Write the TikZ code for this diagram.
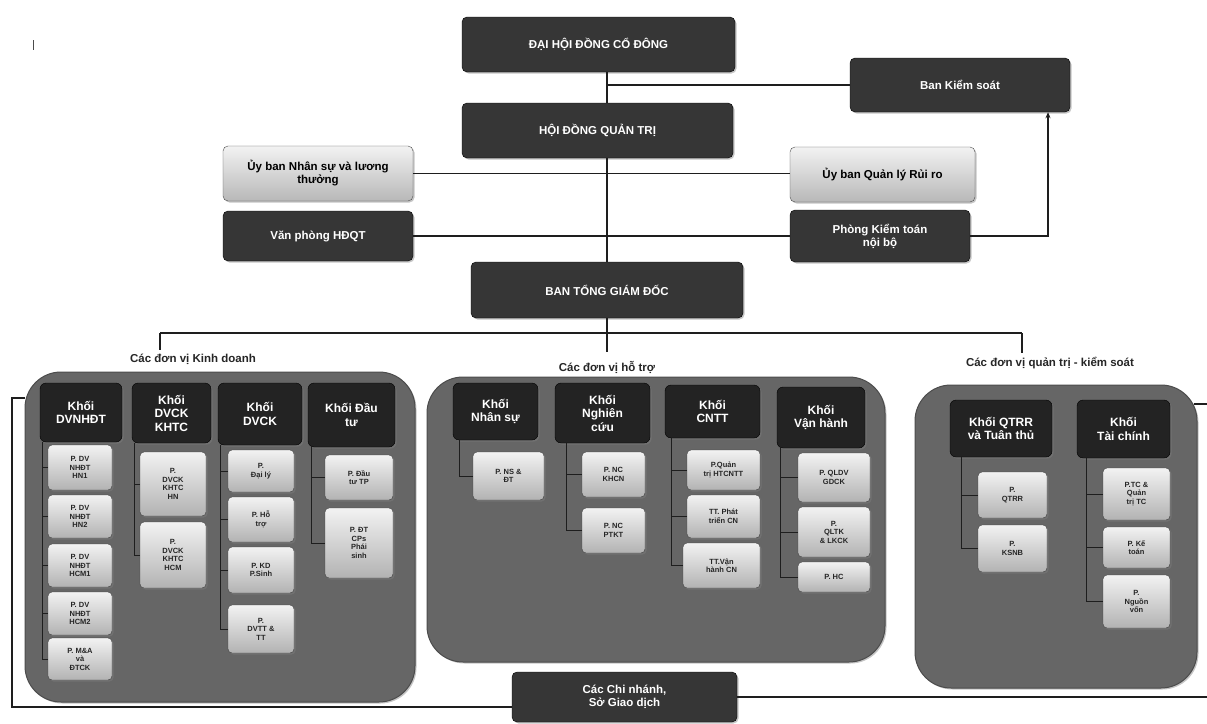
\documentclass[tikz,border=0pt]{standalone}
\usepackage{fontspec}
\setmainfont{Liberation Sans}
\usetikzlibrary{shadows,arrows.meta,calc}
\definecolor{dk}{HTML}{363636}
\definecolor{hd}{HTML}{232323}
\definecolor{ct}{HTML}{666666}
\definecolor{ln}{HTML}{1E1E1E}
\newcommand\mybox[7]{\node[#1, minimum width={(#5)-(#3)}, minimum height={(#6)-(#4)}] (#2) at ({((#3)+(#5))/2},{((#4)+(#6))/2}) {#7};}
\tikzset{
  shad/.style={drop shadow={opacity=0.45, shadow xshift=1.5pt, shadow yshift=-1.5pt}},
  dbox/.style={draw=black, fill=dk, text=white, rounded corners=5pt, align=center, inner sep=2pt, shad,
    font=\fontsize{11.5}{13}\selectfont\bfseries},
  lbox/.style={draw=black!70, top color=white!95!black, bottom color=black!28, text=black, rounded corners=5pt,
    align=center, inner sep=2pt, shad, font=\fontsize{11.5}{13}\selectfont\bfseries},
  cont/.style={draw=black!70, fill=ct, rounded corners=36pt, line width=1pt, shad},
  hbox/.style={draw=black, fill=hd, text=white, rounded corners=6pt, align=center, inner sep=1pt, shad,
    font=\fontsize{12}{13.5}\selectfont\bfseries},
  sbox/.style={draw=black!75, top color=black!5, bottom color=black!30, text=black!85, rounded corners=4pt,
    align=center, inner sep=1pt, shad, font=\fontsize{7.5}{8.5}\selectfont\bfseries},
  lbl/.style={font=\fontsize{11.5}{13}\selectfont\bfseries, text=black!85, inner sep=1pt},
  conn/.style={draw=ln, line width=1.2pt},
  inln/.style={draw=ln, line width=1pt},
}
\begin{document}
\begin{tikzpicture}[x=1pt,y=-1pt]
\fill[white] (0,0) rectangle (1207,723);
\useasboundingbox (0,0) rectangle (1207,723);
% stray mark
\draw[line width=1pt, black!70] (33,40) -- (33,50);

% top level
\mybox{dbox}{dh}{462}{17}{735}{72}{ĐẠI HỘI ĐỒNG CỔ ĐÔNG}
\mybox{dbox}{bks}{850}{58}{1070}{112}{Ban Kiểm soát}
\mybox{dbox}{hdqt}{462}{103}{733}{158}{HỘI ĐỒNG QUẢN TRỊ}
\mybox{lbox}{ubns}{223}{146}{413}{201}{Ủy ban Nhân sự và lương\\thưởng}
\mybox{lbox}{ubrr}{790}{147}{975}{202}{Ủy ban Quản lý Rủi ro}
\mybox{dbox}{vp}{223}{211}{413}{261}{Văn phòng HĐQT}
\mybox{dbox}{pkt}{790}{210}{970}{262}{Phòng Kiểm toán\\nội bộ}
\mybox{dbox}{btgd}{471}{262}{743}{318}{BAN TỔNG GIÁM ĐỐC}

\draw[conn] (dh.south -| btgd.north) -- (hdqt.north -| btgd.north);
\draw[conn] (hdqt.south -| btgd.north) -- (btgd.north);
\draw[conn] (bks.west -| btgd.north) -- (bks.west);
\draw[conn] (ubns.east) -- (ubns.east -| ubrr.west);
\draw[conn] (vp.east) -- (vp.east -| pkt.west);
\draw[conn, -{Stealth[length=6pt,width=5pt]}] (pkt.east) -| ([xshift=88pt]bks.south);

% bus
\coordinate (busL) at (160,333);
\coordinate (busR) at (1022,333);
\node[lbl] (lkd) at (193,359) {Các đơn vị Kinh doanh};
\node[lbl] (lhb) at (607,367) {Các đơn vị hỗ trợ};
\node[lbl] (lqt) at (1050,363) {Các đơn vị quản trị - kiểm soát};
\draw[conn] (btgd.south) -- (btgd.south |- busL);
\draw[conn] (busL) -- (busR);
\draw[conn] (busL) -- ([yshift=3pt]busL |- lkd.north);
\draw[conn] (btgd.south |- busL) -- ([yshift=8pt]lhb.north);
\draw[conn] (busR) -- ([yshift=3pt]busR |- lqt.north);

% containers
\mybox{cont}{kd}{25}{372}{415}{702}{}
\mybox{cont}{hb}{427}{377}{885}{662}{}
\mybox{cont}{qt}{915}{385}{1197}{688}{}

% branches box
\mybox{dbox}{cn}{512}{672}{737}{722}{Các Chi nhánh,\\Sở Giao dịch}
\draw[conn] ([yshift=-10pt]cn.west) -| (12,398) -- (kd.west |- 12,398);
\draw[conn] (cn.east) -- (cn.east -| 1207,0);
\draw[conn] ([xshift=-4pt]qt.east |- 0,404) -- (1207,404);

% business units
\mybox{hbox}{h11}{40}{383}{122}{442}{Khối\\DVNHĐT}
\mybox{hbox}{h12}{132}{383}{211}{443}{Khối\\DVCK\\KHTC}
\mybox{hbox}{h13}{218}{383}{302}{445}{Khối\\DVCK}
\mybox{hbox}{h14}{308}{383}{395}{447}{Khối Đầu\\tư}

\mybox{sbox}{s11}{48}{445}{112}{490}{P. DV\\NHĐT\\HN1}
\mybox{sbox}{s12}{48}{495}{112}{538}{P. DV\\NHĐT\\HN2}
\mybox{sbox}{s13}{48}{544}{112}{587}{P. DV\\NHĐT\\HCM1}
\mybox{sbox}{s14}{48}{592}{112}{635}{P. DV\\NHĐT\\HCM2}
\mybox{sbox}{s15}{48}{638}{112}{680}{P. M\&A\\và\\ĐTCK}

\mybox{sbox}{s16}{140}{452}{206}{516}{P.\\DVCK\\KHTC\\HN}
\mybox{sbox}{s17}{140}{522}{206}{588}{P.\\DVCK\\KHTC\\HCM}

\mybox{sbox}{s18}{228}{450}{294}{492}{P.\\Đại lý}
\mybox{sbox}{s19}{228}{497}{294}{542}{P. Hỗ\\trợ}
\mybox{sbox}{s1a}{228}{547}{294}{593}{P. KD\\P.Sinh}
\mybox{sbox}{s1b}{228}{605}{294}{653}{P.\\DVTT \&\\TT}

\mybox{sbox}{s1c}{325}{455}{393}{500}{P. Đầu\\tư TP}
\mybox{sbox}{s1d}{325}{508}{393}{578}{P. ĐT\\CPs\\Phái\\sinh}

\foreach \s in {s11,s12,s13,s14,s15} \draw[inln] ([xshift=3pt]h11.south west) |- (\s.west);
\foreach \s in {s16,s17} \draw[inln] ([xshift=3pt]h12.south west) |- (\s.west);
\foreach \s in {s18,s19,s1a,s1b} \draw[inln] ([xshift=3pt]h13.south west) |- (\s.west);
\foreach \s in {s1c,s1d} \draw[inln] ([xshift=4pt]h14.south west) |- (\s.west);

% support units
\mybox{hbox}{h21}{453}{383}{538}{440}{Khối\\Nhân sự}
\mybox{hbox}{h22}{555}{383}{650}{443}{Khối\\Nghiên\\cứu}
\mybox{hbox}{h23}{665}{385}{760}{438}{Khối\\CNTT}
\mybox{hbox}{h24}{777}{387}{865}{448}{Khối\\Vận hành}

\mybox{sbox}{s21}{473}{452}{544}{500}{P. NS \&\\ĐT}
\mybox{sbox}{s22}{582}{452}{645}{497}{P. NC\\KHCN}
\mybox{sbox}{s23}{582}{508}{645}{553}{P. NC\\PTKT}
\mybox{sbox}{s24}{687}{450}{760}{490}{P.Quản\\trị HTCNTT}
\mybox{sbox}{s25}{687}{495}{760}{538}{TT. Phát\\triển CN}
\mybox{sbox}{s26}{683}{543}{760}{588}{TT.Vận\\hành CN}
\mybox{sbox}{s27}{798}{453}{870}{502}{P. QLDV\\GDCK}
\mybox{sbox}{s28}{798}{507}{870}{557}{P.\\QLTK\\\& LKCK}
\mybox{sbox}{s29}{798}{562}{870}{592}{P. HC}

\draw[inln] ([xshift=7pt]h21.south west) |- (s21.west);
\foreach \s in {s22,s23} \draw[inln] ([xshift=12pt]h22.south west) |- (\s.west);
\foreach \s in {s24,s25,s26} \draw[inln] ([xshift=7pt]h23.south west) |- (\s.west);
\foreach \s in {s27,s28,s29} \draw[inln] ([xshift=4pt]h24.south west) |- (\s.west);

% governance units
\mybox{hbox}{h31}{950}{400}{1052}{457}{Khối QTRR\\và Tuân thủ}
\mybox{hbox}{h32}{1077}{400}{1170}{458}{Khối\\Tài chính}

\mybox{sbox}{s31}{978}{472}{1047}{518}{P.\\QTRR}
\mybox{sbox}{s32}{978}{525}{1047}{572}{P.\\KSNB}
\mybox{sbox}{s33}{1103}{468}{1170}{520}{P.TC \&\\Quản\\trị TC}
\mybox{sbox}{s34}{1103}{527}{1170}{568}{P. Kế\\toán}
\mybox{sbox}{s35}{1103}{575}{1170}{628}{P.\\Nguồn\\vốn}

\foreach \s in {s31,s32} \draw[inln] ([xshift=12pt]h31.south west) |- (\s.west);
\foreach \s in {s33,s34,s35} \draw[inln] ([xshift=10pt]h32.south west) |- (\s.west);
\end{tikzpicture}
\end{document}
